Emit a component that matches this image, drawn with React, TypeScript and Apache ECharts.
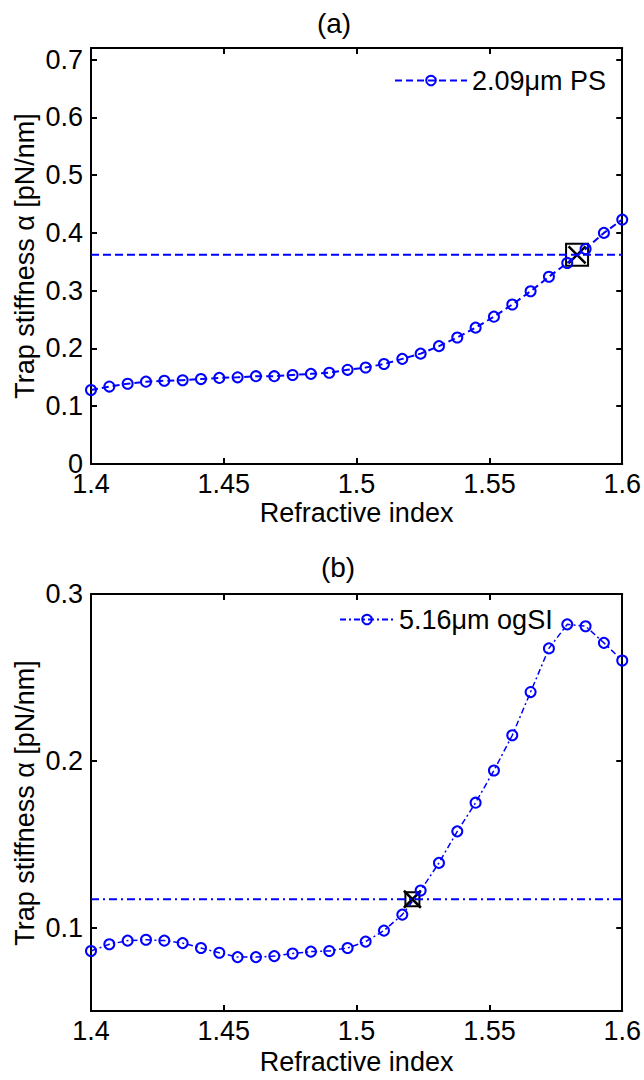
import React, { useEffect, useRef } from "react";
import * as echarts from "echarts";

const FONT = '"Liberation Sans", Arial, Helvetica, sans-serif';

// Refractive index sample points (30 per curve)
const refractiveIndex = [
  1.4, 1.4069, 1.4138, 1.4207, 1.4276, 1.4345, 1.4414, 1.4483, 1.4552, 1.4621,
  1.469, 1.4759, 1.4828, 1.4897, 1.4966, 1.5034, 1.5103, 1.5172, 1.5241, 1.531,
  1.5379, 1.5448, 1.5517, 1.5586, 1.5655, 1.5724, 1.5793, 1.5862, 1.5931, 1.6,
];

// (a) 2.09 µm PS trap stiffness [pN/nm]
const psStiffness = [
  0.128, 0.134, 0.139, 0.1425, 0.144, 0.145, 0.147, 0.149, 0.15, 0.152,
  0.152, 0.154, 0.156, 0.158, 0.163, 0.167, 0.173, 0.182, 0.191, 0.204,
  0.219, 0.236, 0.255, 0.276, 0.299, 0.324, 0.348, 0.372, 0.4, 0.423,
];

// (b) 5.16 µm ogSI trap stiffness [pN/nm]
const ogsiStiffness = [
  0.086, 0.09, 0.0922, 0.0927, 0.0922, 0.0907, 0.0878, 0.0849, 0.0823, 0.0823,
  0.0829, 0.0845, 0.0856, 0.086, 0.0878, 0.0916, 0.0982, 0.1078, 0.1222, 0.1388,
  0.1577, 0.1749, 0.1942, 0.2153, 0.2412, 0.2674, 0.2818, 0.2807, 0.2707, 0.2601,
];

// measured stiffness levels and crossing points
const psMeasured = 0.362;
const psCrossing = 1.583;
const ogsiMeasured = 0.117;
const ogsiCrossing = 1.521;

const xTicks = [1.4, 1.45, 1.5, 1.55, 1.6];
const yTicksA = [0, 0.1, 0.2, 0.3, 0.4, 0.5, 0.6, 0.7];
const yTicksB = [0.1, 0.2, 0.3];

const seriesNameA = "2.09\u03bcm PS";
const seriesNameB = "5.16\u03bcm ogSI";
const xTitle = "Refractive index";
const yTitle = "Trap stiffness \u03b1 [pN/nm]";

const BLUE = "#0000ff";

export default function App() {
  const ref = useRef<HTMLDivElement>(null);

  useEffect(() => {
    if (!ref.current) return;
    const chart = echarts.init(ref.current, undefined, { renderer: "svg" });

    const axisLine = { show: true, onZero: false, lineStyle: { color: "#000", width: 2 } };
    const tick = (vals?: number[]) => ({
      show: true,
      inside: true,
      length: 6,
      lineStyle: { color: "#000", width: 2 },
      ...(vals ? { customValues: vals } : {}),
    });
    const labelStyle = { color: "#000", fontSize: 27, fontFamily: FONT };

    const mkX = (gridIndex: number, position: string, labels: boolean, gap: number) => ({
      type: "value",
      gridIndex,
      position,
      min: 1.4,
      max: 1.6,
      axisLine,
      axisTick: tick(xTicks),
      axisLabel: labels
        ? { show: true, ...labelStyle, margin: 6, customValues: xTicks, showMinLabel: true, showMaxLabel: true }
        : { show: false },
      splitLine: { show: false },
      name: labels ? xTitle : "",
      nameLocation: "middle",
      nameGap: gap,
      nameTextStyle: labelStyle,
    });

    const mkY = (gridIndex: number, position: string, labels: boolean, min: number, max: number, ticks: number[]) => ({
      type: "value",
      gridIndex,
      position,
      min,
      max,
      axisLine,
      axisTick: tick(ticks),
      axisLabel: labels ? { show: true, ...labelStyle, margin: 8, customValues: ticks } : { show: false },
      splitLine: { show: false },
    });

    const pts = (ys: number[]) => refractiveIndex.map((x, i) => [x, ys[i]]);

    const hollow = { color: "transparent", borderColor: BLUE, borderWidth: 2, opacity: 1 };
    const blackHollow = { color: "transparent", borderColor: "#000", borderWidth: 2, opacity: 1 };
    const blackCross = { color: "transparent", borderColor: "#000", borderWidth: 2.5, opacity: 1 };
    const cross = "path://M0 0L20 20M20 0L0 20";

    const option: any = {
      animation: false,
      backgroundColor: "#ffffff",
      textStyle: { fontFamily: FONT },
      grid: [
        { left: 91, top: 48, width: 536, height: 416 },
        { left: 91, top: 594, width: 536, height: 417 },
      ],
      xAxis: [
        mkX(0, "bottom", true, 35),
        mkX(0, "top", false, 0),
        mkX(1, "bottom", true, 37),
        mkX(1, "top", false, 0),
      ],
      yAxis: [
        mkY(0, "left", true, 0, 0.72, yTicksA),
        mkY(0, "right", false, 0, 0.72, yTicksA),
        mkY(1, "left", true, 0.05, 0.3, yTicksB),
        mkY(1, "right", false, 0.05, 0.3, yTicksB),
      ],
      legend: [
        {
          data: [seriesNameA],
          left: 394,
          top: 67,
          padding: 0,
          itemWidth: 72,
          itemHeight: 12,
          selectedMode: false,
          textStyle: labelStyle,
        },
        {
          data: [seriesNameB],
          left: 339,
          top: 606,
          padding: 0,
          itemWidth: 54,
          itemHeight: 12,
          selectedMode: false,
          textStyle: labelStyle,
        },
      ],
      series: [
        // (a)
        {
          type: "line",
          name: "psLevel",
          xAxisIndex: 0,
          yAxisIndex: 0,
          data: [[1.4, psMeasured], [1.6, psMeasured]],
          symbol: "none",
          silent: true,
          lineStyle: { color: BLUE, width: 2, type: [8, 4] },
        },
        {
          type: "scatter",
          name: "psSquare",
          xAxisIndex: 0,
          yAxisIndex: 0,
          data: [[psCrossing, psMeasured]],
          symbol: "rect",
          symbolSize: 22,
          itemStyle: blackHollow,
          silent: true,
        },
        {
          type: "line",
          name: seriesNameA,
          xAxisIndex: 0,
          yAxisIndex: 0,
          data: pts(psStiffness),
          symbol: "circle",
          symbolSize: 10,
          showAllSymbol: true,
          color: BLUE,
          itemStyle: hollow,
          lineStyle: { color: BLUE, width: 2, type: [7, 4] },
        },
        {
          type: "scatter",
          name: "psCross",
          xAxisIndex: 0,
          yAxisIndex: 0,
          data: [[psCrossing, psMeasured]],
          symbol: cross,
          symbolSize: 17,
          itemStyle: blackCross,
          silent: true,
        },
        // (b)
        {
          type: "line",
          name: "ogsiLevel",
          xAxisIndex: 2,
          yAxisIndex: 2,
          data: [[1.4, ogsiMeasured], [1.6, ogsiMeasured]],
          symbol: "none",
          silent: true,
          lineStyle: { color: BLUE, width: 2, type: [8, 4, 2, 4] },
        },
        {
          type: "scatter",
          name: "ogsiSquare",
          xAxisIndex: 2,
          yAxisIndex: 2,
          data: [[ogsiCrossing, ogsiMeasured]],
          symbol: "rect",
          symbolSize: 14,
          itemStyle: blackHollow,
          silent: true,
        },
        {
          type: "line",
          name: seriesNameB,
          xAxisIndex: 2,
          yAxisIndex: 2,
          data: pts(ogsiStiffness),
          symbol: "circle",
          symbolSize: 10,
          showAllSymbol: true,
          color: BLUE,
          itemStyle: hollow,
          lineStyle: { color: BLUE, width: 1.5, type: [6, 3, 2, 3] },
        },
        {
          type: "scatter",
          name: "ogsiCross",
          xAxisIndex: 2,
          yAxisIndex: 2,
          data: [[ogsiCrossing, ogsiMeasured]],
          symbol: cross,
          symbolSize: 17,
          itemStyle: blackCross,
          silent: true,
        },
      ],
      graphic: [
        {
          type: "text",
          x: 334,
          y: 23,
          style: { text: "(a)", fontSize: 28, fontFamily: FONT, fill: "#000", align: "center", verticalAlign: "middle" },
        },
        {
          type: "text",
          x: 338,
          y: 567,
          style: { text: "(b)", fontSize: 28, fontFamily: FONT, fill: "#000", align: "center", verticalAlign: "middle" },
        },
        {
          type: "text",
          x: 25,
          y: 256,
          rotation: Math.PI / 2,
          style: { text: yTitle, fontSize: 27, fontFamily: FONT, fill: "#000", align: "center", verticalAlign: "middle" },
        },
        {
          type: "text",
          x: 25,
          y: 803,
          rotation: Math.PI / 2,
          style: { text: yTitle, fontSize: 27, fontFamily: FONT, fill: "#000", align: "center", verticalAlign: "middle" },
        },
      ],
    };

    chart.setOption(option);
    return () => chart.dispose();
  }, []);

  return (
    <div
      ref={ref}
      style={{ position: "absolute", left: 0, top: 0, width: 644, height: 1080, background: "#fff" }}
    />
  );
}
